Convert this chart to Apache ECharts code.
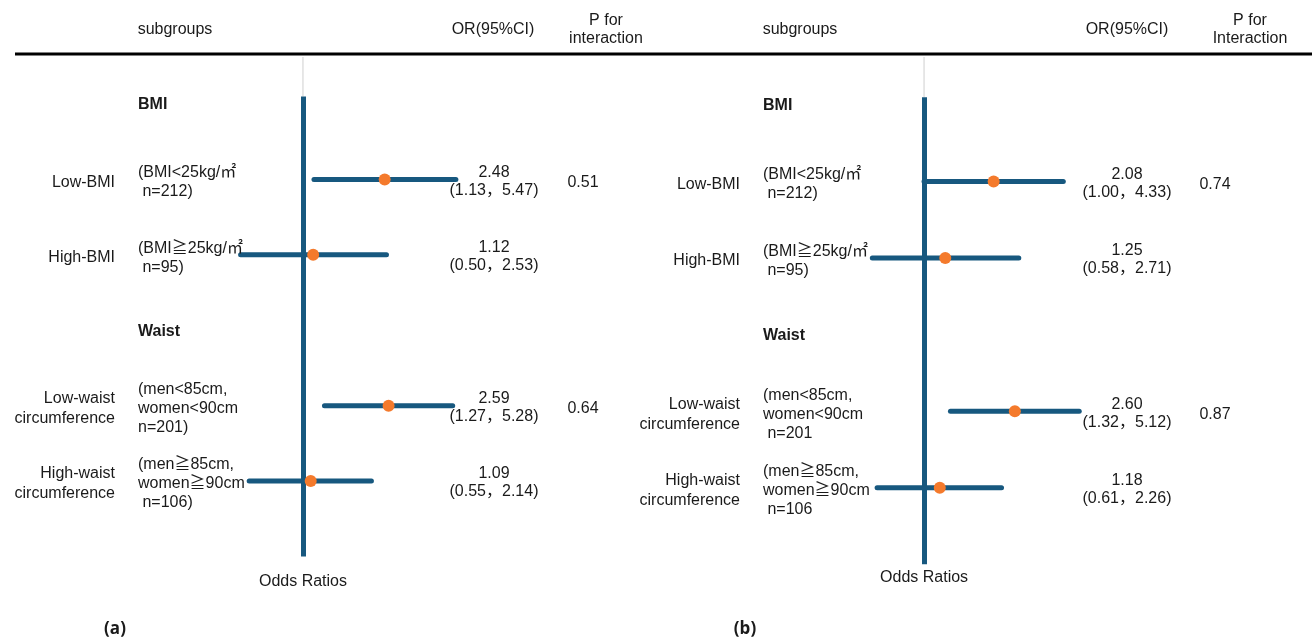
<!DOCTYPE html>
<html><head><meta charset="utf-8">
<script src="https://cdn.jsdelivr.net/npm/echarts@6/dist/echarts.min.js"></script>
<style>html,body{margin:0;padding:0;background:#fff}#c{width:1312px;height:638px}</style>
</head><body><div id="c"></div>
<script>
// ---------- data ----------
const groupHeaders = ['BMI', 'Waist'];
const headerRows = [0, 3];
const subgroupRows = [1, 2, 4, 5];
const subgroupNames = ['Low-BMI', 'High-BMI', 'Low-waist\ncircumference', 'High-waist\ncircumference'];
const descA = ['(BMI<25kg/㎡\n n=212)', '(BMI≧25kg/㎡\n n=95)', '(men<85cm,\nwomen<90cm\nn=201)', '(men≧85cm,\nwomen≧90cm\n n=106)'];
const descB = ['(BMI<25kg/㎡\n n=212)', '(BMI≧25kg/㎡\n n=95)', '(men<85cm,\nwomen<90cm\n n=201', '(men≧85cm,\nwomen≧90cm\n n=106'];
const orA = [2.48, 1.12, 2.59, 1.09];
const loA = [1.13, 0.50, 1.27, 0.55];
const hiA = [5.47, 2.53, 5.28, 2.14];
const pA = ['0.51', '', '0.64', ''];
const orB = [2.08, 1.25, 2.60, 1.18];
const loB = [1.00, 0.58, 1.32, 0.61];
const hiB = [4.33, 2.71, 5.12, 2.26];
const pB = ['0.74', '', '0.87', ''];
const colSubgroups = 'subgroups';
const colOR = 'OR(95%CI)';
const colPA = 'P for\ninteraction';
const colPB = 'P for\nInteraction';
const axisTitle = 'Odds Ratios';
const panelTags = ['(a)', '(b)'];
const refValue = 1;

// ---------- style / layout ----------
const TEAL = '#17587f';
const ORANGE = '#f47a2c';
const FONT = '"Liberation Sans", "Noto Sans CJK SC", sans-serif';
const panels = [
  {grid: {left: 220.5, top: 96.5, width: 243.7, height: 460}, labelRight: 115, descLeft: 138, orX: 494, pX: 583,
   subX: 175, orHeadX: 493, pHeadX: 606, tagX: 115, oddsY: 582, desc: descA, or: orA, lo: loA, hi: hiA, p: pA, pHead: colPA},
  {grid: {left: 837, top: 97.3, width: 257.3, height: 467}, labelRight: 740, descLeft: 763, orX: 1127, pX: 1215,
   subX: 800, orHeadX: 1127, pHeadX: 1250, tagX: 745, oddsY: 578, desc: descB, or: orB, lo: loB, hi: hiB, p: pB, pHead: colPB}
];

const chart = echarts.init(document.getElementById('c'), null, {renderer: 'canvas'});

const grids = panels.map(p => Object.assign({containLabel: false}, p.grid));
const xAxes = panels.map((p, i) => ({type: 'log', gridIndex: i, min: 0.4, max: 6, show: false}));
const yAxes = panels.map((p, i) => ({type: 'value', gridIndex: i, min: -0.1, max: 6, inverse: true, show: false}));
const series = [];
panels.forEach((p, i) => {
  series.push({
    type: 'custom', xAxisIndex: i, yAxisIndex: i, z: 3, silent: true,
    data: subgroupRows.map((r, k) => [p.lo[k], p.hi[k], r]),
    encode: {x: [0, 1], y: 2},
    renderItem: function (params, api) {
      const s = api.coord([api.value(0), api.value(2)]);
      const e = api.coord([api.value(1), api.value(2)]);
      return {type: 'line', shape: {x1: s[0], y1: s[1], x2: e[0], y2: e[1]},
        style: {stroke: TEAL, lineWidth: 5, lineCap: 'round'}};
    },
    markLine: {
      silent: true, symbol: 'none', animation: false, z: 2,
      label: {show: false},
      lineStyle: {color: TEAL, width: 5, type: 'solid'},
      data: [{xAxis: refValue}]
    }
  });
  series.push({
    type: 'scatter', xAxisIndex: i, yAxisIndex: i, z: 5, silent: true,
    symbol: 'circle', symbolSize: 12,
    itemStyle: {color: ORANGE, opacity: 1},
    data: subgroupRows.map((r, k) => [p.or[k], r])
  });
});

chart.setOption({
  animation: false,
  backgroundColor: '#fff',
  grid: grids, xAxis: xAxes, yAxis: yAxes, series: series
});

// ---------- texts & decorations ----------
const g = [];
function txt(text, x, y, align, opts) {
  opts = opts || {};
  g.push({type: 'text', silent: true, z: 10, style: {
    text: text, x: x, y: y, align: align, verticalAlign: 'middle',
    fill: opts.fill || '#1a1a1a',
    fontFamily: opts.family || FONT,
    fontSize: opts.size || 16,
    fontWeight: opts.weight || 'normal',
    lineHeight: opts.lh || 19
  }});
}
g.push({type: 'line', silent: true, z: 10, shape: {x1: 15, y1: 54, x2: 1312, y2: 54}, style: {stroke: '#000', lineWidth: 3}});

panels.forEach((p, i) => {
  const pix = v => chart.convertToPixel({xAxisIndex: i, yAxisIndex: i}, v);
  const top = pix([refValue, -0.1]);
  g.push({type: 'line', silent: true, z: 1, shape: {x1: top[0], y1: 57, x2: top[0], y2: top[1]}, style: {stroke: '#cfcfcf', lineWidth: 1}});
  txt(colSubgroups, p.subX, 30, 'center');
  txt(colOR, p.orHeadX, 30, 'center');
  txt(p.pHead, p.pHeadX, 30, 'center', {lh: 18});
  groupHeaders.forEach((h, k) => {
    const y = pix([refValue, headerRows[k]])[1];
    txt(h, p.descLeft, y + 1, 'left', {weight: 'bold'});
  });
  subgroupRows.forEach((r, k) => {
    const y = pix([refValue, r])[1];
    txt(subgroupNames[k], p.labelRight, y + 3, 'right', {lh: 20});
    txt(p.desc[k], p.descLeft, y + 3, 'left');
    txt(p.or[k].toFixed(2) + '\n(' + p.lo[k].toFixed(2) + '，' + p.hi[k].toFixed(2) + ')', p.orX, y + 2, 'center', {lh: 18});
    if (p.p[k]) txt(p.p[k], p.pX, y + 3, 'center');
  });
  txt(axisTitle, top[0], p.oddsY, 'center');
  txt(panelTags[i], p.tagX, 629, 'center', {weight: 'bold', size: 17, family: '"Open Sans", sans-serif'});
});
chart.setOption({graphic: {elements: g}});
</script>
</body></html>
